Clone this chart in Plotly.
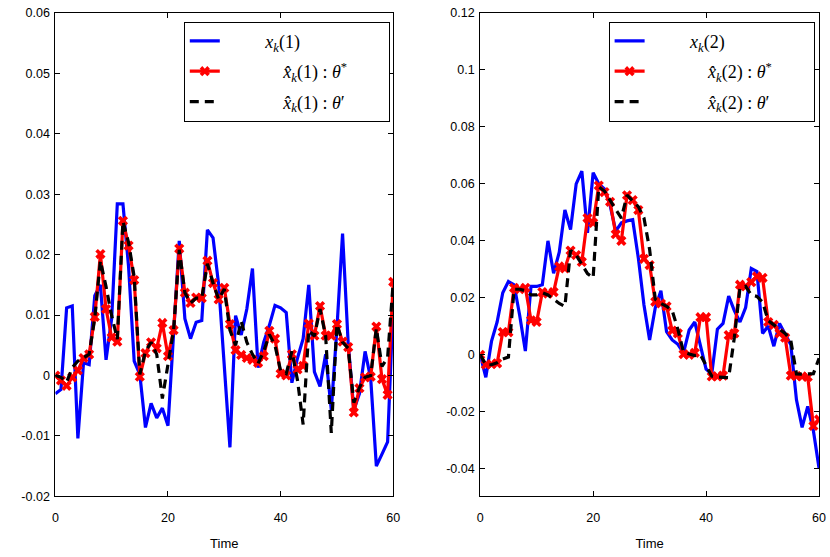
import plotly.graph_objects as go

t = list(range(61))

# ---- Left panel: component 1 ----
x1_true = [-0.003, -0.0023, 0.0112, 0.0115, -0.0104, 0.0021, 0.0018, 0.0132, 0.015, 0.0026,
           0.0094, 0.0284, 0.0284, 0.018, 0.0024, 0.0002, -0.0086, -0.0046, -0.007, -0.0054,
           -0.0083, 0.007, 0.0223, 0.0094, 0.0061, 0.0088, 0.0091, 0.0241, 0.0228, 0.015,
           0.002, -0.0119, 0.0099, 0.0067, 0.011, 0.0177, 0.0013, 0.0055, 0.0083, 0.0116,
           0.0112, 0.0104, -0.0012, 0.0029, 0.0061, 0.015, 0.0006, -0.0018, 0.0035, -0.0057,
           0.0078, 0.0235, 0.0053, -0.0057, -0.003, 0.004, -0.0005, -0.015, -0.013, -0.011,
           0.012]
x1_star = [0.0, -0.0008, -0.0017, -0.0003, 0.00085, 0.0029, 0.0035, 0.0097, 0.0201, 0.011,
           0.0063, 0.0056, 0.0256, 0.0215, 0.0158, -0.0002, 0.0037, 0.0055, 0.0045, 0.0087,
           0.0032, 0.0075, 0.021, 0.0137, 0.012, 0.0129, 0.0128, 0.019, 0.0153, 0.0126,
           0.0145, 0.0085, 0.0042, 0.0034, 0.0029, 0.0026, 0.0021, 0.0032, 0.0074, 0.0061,
           0.0003, 0.0, 0.0035, 0.001, 0.0016, 0.0086, 0.0066, 0.0115, 0.0066, 0.0066,
           0.0085, 0.0056, 0.0047, -0.0061, -0.0021, -0.0003, -0.0002, 0.0081, -0.0006, -0.0032,
           0.0155]
x1_prime = [0.0, -0.0003, -0.0011, 0.0013, 0.0024, 0.003, 0.0035, 0.0095, 0.019, 0.0147,
            0.0099, 0.006, 0.0255, 0.022, 0.0163, 0.0002, 0.004, 0.0055, 0.0035, -0.0038,
            0.0018, 0.0075, 0.0208, 0.0137, 0.012, 0.0128, 0.0128, 0.0185, 0.0153, 0.0126,
            0.0143, 0.0075, 0.005, 0.009, 0.0055, 0.0035, 0.002, 0.004, 0.0068, 0.005,
            0.0008, 0.0003, 0.004, -0.0008, -0.0081, 0.0075, 0.0065, 0.011, 0.0065, -0.0095,
            0.0085, 0.0055, 0.0045, -0.0045, -0.002, -0.0003, 0.0, 0.0078, 0.0015, 0.003,
            0.0155]

# ---- Right panel: component 2 ----
x2_true = [0.0, -0.0079, 0.0047, 0.0115, 0.0218, 0.0257, 0.0246, 0.0138, 0.0013, 0.024,
           0.024, 0.0246, 0.04, 0.0286, 0.036, 0.0508, 0.044, 0.06, 0.0645, 0.0428,
           0.0639, 0.06, 0.0582, 0.0525, 0.0434, 0.0463, 0.047, 0.0474, 0.034, 0.0175,
           0.0052, 0.0165, 0.0225, 0.0081, 0.0052, 0.0037, 0.0007, 0.0087, 0.0115, 0.003,
           -0.005, -0.0068, 0.009, 0.011, 0.0206, 0.0155, 0.0115, 0.0166, 0.0303, 0.0292,
           0.0075, 0.0101, 0.003, 0.011, 0.0075, 0.0035, -0.0158, -0.0255, -0.0181, -0.0267,
           -0.0398]
x2_star = [0.0, -0.0035, -0.0033, -0.003, 0.008, 0.0079, 0.0235, 0.023, 0.0235, 0.0121,
           0.0115, 0.022, 0.0215, 0.022, 0.031, 0.0303, 0.0366, 0.035, 0.0326, 0.048,
           0.0463, 0.0594, 0.0571, 0.0537, 0.0423, 0.040, 0.056, 0.0543, 0.0508, 0.0337,
           0.0315, 0.0186, 0.018, 0.017, 0.0085, 0.0075, 0.0002, 0.0, 0.0007, 0.0132,
           0.0132, -0.0076, -0.0076, -0.0073, 0.0069, 0.0075, 0.0246, 0.024, 0.0255, 0.0275,
           0.027, 0.0115, 0.0105, 0.0075, 0.006, -0.0073, -0.0075, -0.0076, -0.0078, -0.025,
           -0.0227]
x2_prime = [0.0, -0.0035, -0.0035, -0.0028, -0.0015, -0.0008, 0.023, 0.023, 0.0225, 0.021,
            0.021, 0.0218, 0.021, 0.0195, 0.018, 0.017, 0.0366, 0.035, 0.032, 0.0285,
            0.027, 0.059, 0.0575, 0.054, 0.051, 0.048, 0.056, 0.054, 0.052, 0.048,
            0.037, 0.0195, 0.018, 0.017, 0.0155, 0.009, 0.001, 0.0003, -0.0003, 0.0,
            -0.004, -0.0075, -0.0078, -0.008, -0.008, 0.006, 0.0235, 0.024, 0.021, 0.0205,
            0.0185, 0.012, 0.0105, 0.0093, 0.0075, 0.005, -0.0067, -0.0068, -0.0068, -0.0066,
            -0.0012]

left_yticks = [-0.02, -0.01, 0, 0.01, 0.02, 0.03, 0.04, 0.05, 0.06]
right_yticks = [-0.04, -0.02, 0, 0.02, 0.04, 0.06, 0.08, 0.1, 0.12]
xticks = [0, 20, 40, 60]


def lab(v):
    return "%g" % v


W, H = 830, 557
NB = "\u00a0"
PAD = '<span style="color:rgba(0,0,0,0)">xxxx</span>'
fig = go.Figure()

names = {}
for k in (1, 2):
    names[k] = [
        NB * 9 + f"<i>x</i><sub><i>k</i></sub>({k})",
        NB * 13 + f"<i>x̂</i><sub><i>k</i></sub>({k}) : <i>θ</i><sup>*</sup>" + PAD,
        NB * 13 + f"<i>x̂</i><sub><i>k</i></sub>({k}) : <i>θ</i>′" + PAD,
    ]

for idx, (true, star, prime) in enumerate([(x1_true, x1_star, x1_prime), (x2_true, x2_star, x2_prime)], start=1):
    xa = "x" if idx == 1 else "x2"
    ya = "y" if idx == 1 else "y2"
    lg = "legend" if idx == 1 else "legend2"
    fig.add_trace(go.Scatter(x=t, y=true, mode="lines", name=names[idx][0],
                             line=dict(color="#0000ff", width=3.2),
                             xaxis=xa, yaxis=ya, legend=lg, legendgroup=f"a{idx}"))
    fig.add_trace(go.Scatter(x=t, y=star, mode="lines+markers", name=names[idx][1],
                             line=dict(color="#ff0000", width=3.2),
                             marker=dict(symbol="x", size=9, color="#ff0000"),
                             xaxis=xa, yaxis=ya, legend=lg, legendgroup=f"b{idx}"))
    fig.add_trace(go.Scatter(x=t, y=prime, mode="lines", name=names[idx][2],
                             line=dict(color="#000000", width=3.2, dash="9px,6px"),
                             xaxis=xa, yaxis=ya, legend=lg, legendgroup=f"c{idx}"))

axis_common = dict(showline=True, linecolor="black", linewidth=1, mirror="ticks",
                   ticks="inside", ticklen=5, tickcolor="black", showgrid=False,
                   zeroline=False, ticklabeloverflow="allow",
                   tickfont=dict(family="Liberation Sans, Arial", size=12.5, color="black"))

title_font = dict(family="Liberation Sans, Arial", size=13, color="black")
leg_font = dict(family="Liberation Serif, serif", size=18, color="black")

ydom = [1 - 502 / H, 1 - 6 / H]
fig.update_layout(
    width=W, height=H,
    margin=dict(l=0, r=0, t=0, b=0),
    paper_bgcolor="white", plot_bgcolor="white",
    xaxis=dict(domain=[53 / W, 395 / W], range=[0, 60.0001], tickvals=xticks,
               ticktext=[lab(v) for v in xticks], ticklabelstandoff=10,
               title=dict(text="Time", font=title_font, standoff=14),
               **axis_common),
    yaxis=dict(domain=ydom, range=[-0.02, 0.06001], tickvals=left_yticks,
               ticktext=[lab(v) for v in left_yticks], ticklabelstandoff=2, **axis_common),
    xaxis2=dict(domain=[483 / W, 826 / W], range=[0, 60.0001], tickvals=xticks,
                ticktext=[lab(v) for v in xticks], anchor="y2", ticklabelstandoff=10,
                title=dict(text="Time", font=title_font, standoff=14),
                **axis_common),
    yaxis2=dict(domain=ydom, range=[-0.0497, 0.12002], tickvals=right_yticks,
                ticktext=[lab(v) for v in right_yticks], anchor="x2", ticklabelstandoff=2,
                **axis_common),
    legend=dict(x=183 / W, y=1 - 15 / H, xanchor="left", yanchor="top",
                bgcolor="white", bordercolor="black", borderwidth=1,
                font=leg_font, traceorder="grouped", tracegroupgap=4),
    legend2=dict(x=613 / W, y=1 - 15 / H, xanchor="left", yanchor="top",
                 bgcolor="white", bordercolor="black", borderwidth=1,
                 font=leg_font, traceorder="grouped", tracegroupgap=4),
    showlegend=True,
)

fig.write_html("out.html")
